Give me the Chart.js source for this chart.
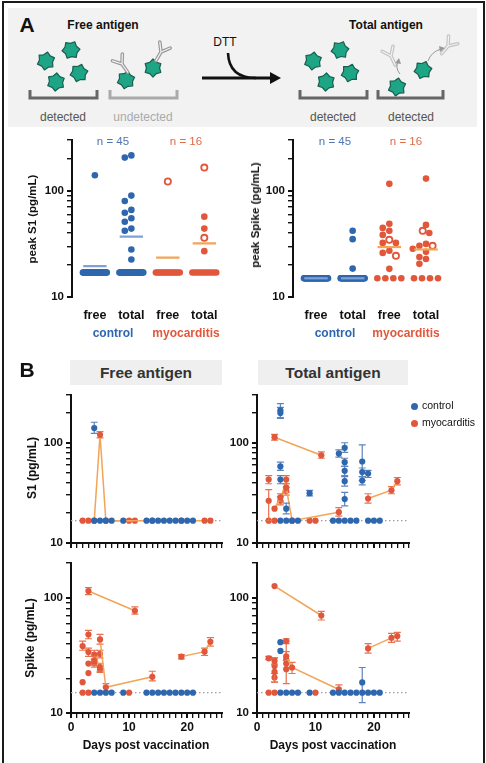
<!DOCTYPE html>
<html>
<head>
<meta charset="utf-8">
<script src="https://cdn.jsdelivr.net/npm/chart.js@4.4.1/dist/chart.umd.min.js"></script>
<style>
body { margin: 0; width: 486px; height: 763px; position: relative; background: #fff; overflow: hidden;
       font-family: "Liberation Sans", Arial, Helvetica, sans-serif; color: #111; }
.t { position: absolute; white-space: nowrap; transform: translate(-50%, -50%); }
.rot { transform: translate(-50%, -50%) rotate(-90deg); }
.b { font-weight: bold; }
.cv { position: absolute; }
.hdr { position: absolute; background: #efefef; font-weight: bold; font-size: 15.5px; color: #333;
       display: flex; align-items: center; justify-content: center; }
</style>
</head>
<body>
<div style="position:absolute;left:2px;top:1px;width:479px;height:780px;border:2px solid #1a1a1a;border-bottom:none"></div>
<div style="position:absolute;left:8px;top:8px;width:469px;height:119px;background:#f2f2f2"></div>
<svg id="art" width="486" height="130" style="position:absolute;left:0;top:0"></svg>

<div class="t b" style="left:27px;top:25px;font-size:21px">A</div>
<div class="t b" style="left:103px;top:25px;font-size:12px">Free antigen</div>
<div class="t b" style="left:386px;top:25px;font-size:12px">Total antigen</div>
<div class="t" style="left:225px;top:42px;font-size:12px">DTT</div>
<div class="t" style="left:63px;top:117px;font-size:12px;color:#555">detected</div>
<div class="t" style="left:143px;top:117px;font-size:12px;color:#aaa">undetected</div>
<div class="t" style="left:333px;top:117px;font-size:12px;color:#555">detected</div>
<div class="t" style="left:411px;top:117px;font-size:12px;color:#555">detected</div>

<div class="cv" style="left:0;top:130px;width:232px;height:215px"><canvas id="aS1"></canvas></div>
<div class="cv" style="left:200px;top:130px;width:286px;height:215px"><canvas id="aSpike"></canvas></div>

<div class="t" style="left:113px;top:141px;font-size:11.5px;color:#4d75b3">n = 45</div>
<div class="t" style="left:186px;top:141px;font-size:11.5px;color:#e06b48">n = 16</div>
<div class="t" style="left:335px;top:141px;font-size:11.5px;color:#4d75b3">n = 45</div>
<div class="t" style="left:406px;top:141px;font-size:11.5px;color:#e06b48">n = 16</div>
<div class="t b" style="left:113px;top:333px;font-size:12px;color:#2f67ae">control</div>
<div class="t b" style="left:186px;top:333px;font-size:12px;color:#e1573b">myocarditis</div>
<div class="t b" style="left:335px;top:333px;font-size:12px;color:#2f67ae">control</div>
<div class="t b" style="left:406px;top:333px;font-size:12px;color:#e1573b">myocarditis</div>
<div class="t b rot" style="left:32px;top:219px;font-size:11.5px">peak S1 (pg/mL)</div>
<div class="t b rot" style="left:255px;top:215px;font-size:11.5px">peak Spike (pg/mL)</div>

<div class="t b" style="left:27px;top:370px;font-size:21px">B</div>
<div class="hdr" style="left:70px;top:360px;width:152px;height:25px">Free antigen</div>
<div class="hdr" style="left:258px;top:360px;width:150px;height:25px">Total antigen</div>

<div class="cv" style="left:0;top:385px;width:232px;height:170px"><canvas id="bS1Free"></canvas></div>
<div class="cv" style="left:200px;top:385px;width:286px;height:170px"><canvas id="bS1Tot"></canvas></div>
<div class="cv" style="left:0;top:553px;width:232px;height:210px"><canvas id="bSpFree"></canvas></div>
<div class="cv" style="left:200px;top:553px;width:286px;height:210px"><canvas id="bSpTot"></canvas></div>

<div class="t b rot" style="left:32px;top:468px;font-size:12px">S1 (pg/mL)</div>
<div class="t b rot" style="left:30px;top:638px;font-size:12px">Spike (pg/mL)</div>
<div class="t b" style="left:146px;top:745px;font-size:12px">Days post vaccination</div>
<div class="t b" style="left:333px;top:745px;font-size:12px">Days post vaccination</div>

<div style="position:absolute;left:411px;top:403px;width:7px;height:7px;border-radius:50%;background:#2f67ae"></div>
<div style="position:absolute;left:422px;top:399px;font-size:10.5px">control</div>
<div style="position:absolute;left:411px;top:420px;width:7px;height:7px;border-radius:50%;background:#e1573b"></div>
<div style="position:absolute;left:422px;top:416px;font-size:10.5px">myocarditis</div>

<script>
// ---------- panel A: peak values per subject ----------
const catLabels = ['free', 'total', 'free', 'total'];
const ticksA = [10, 20, 30, 40, 50, 60, 70, 80, 90, 100, 200, 300];
const ticksSpikeB = [10, 20, 30, 40, 50, 60, 70, 80, 90, 100, 200];

const s1CtrlFree = [140, 17, 17, 17, 17, 17, 17, 17, 17, 17, 17, 17, 17, 17, 17, 17, 17, 17, 17, 17, 17, 17, 17,
  17, 17, 17, 17, 17, 17, 17, 17, 17, 17, 17, 17, 17, 17, 17, 17, 17, 17, 17, 17, 17, 17];
const s1CtrlTotal = [215, 205, 90, 80, 66, 62, 55, 51, 44, 42, 28, 22.5, 17, 17, 17, 17, 17, 17, 17, 17, 17, 17,
  17, 17, 17, 17, 17, 17, 17, 17, 17, 17, 17, 17, 17, 17, 17, 17, 17, 17, 17, 17, 17, 17, 17];
const s1MyoFree = [17, 17, 17, 17, 17, 17, 17, 17, 17, 17, 17, 17, 17, 17, 17];
const s1MyoFreeOpen = [122];
const s1MyoTotal = [57, 44, 27, 17, 17, 17, 17, 17, 17, 17, 17, 17, 17, 17];
const s1MyoTotalOpen = [165, 36];
const s1Means = [19.5, 37, 23.5, 32];

const spCtrlFree = [15, 15, 15, 15, 15, 15, 15, 15, 15, 15, 15, 15, 15, 15, 15, 15, 15, 15, 15, 15, 15, 15, 15,
  15, 15, 15, 15, 15, 15, 15, 15, 15, 15, 15, 15, 15, 15, 15, 15, 15, 15, 15, 15, 15, 15];
const spCtrlTotal = [42, 35, 18.5, 15, 15, 15, 15, 15, 15, 15, 15, 15, 15, 15, 15, 15, 15, 15, 15, 15, 15, 15, 15,
  15, 15, 15, 15, 15, 15, 15, 15, 15, 15, 15, 15, 15, 15, 15, 15, 15, 15, 15, 15, 15, 15];
const spMyoFree = [116, 48.9, 44.7, 41.9, 38.4, 32.3, 32.3, 27.2, 26, 18.4, 15, 15, 15, 15];
const spMyoFreeOpen = [34.5, 24.4];
const spMyoTotal = [130, 47.7, 40, 31.6, 30.3, 28.4, 26.6, 23.8, 22.8, 20.5, 15, 15, 15, 15];
const spMyoTotalOpen = [41.9, 30.3];
const spMeans = [15, 15, 29.5, 28];

// ---------- panel B: time courses (days, value, error bar lo/hi, patient) ----------
const s1Lod = 16.7;
const spLod = 15;

const s1FreeCtrlDay = [4, 4, 5, 6, 7, 9, 13, 14, 15, 16, 17, 18, 19, 20, 21];
const s1FreeCtrlVal = [140, 16.7, 16.7, 16.7, 16.7, 16.7, 16.7, 16.7, 16.7, 16.7, 16.7, 16.7, 16.7, 16.7, 16.7];
const s1FreeCtrlLo = [124];
const s1FreeCtrlHi = [160];
const s1FreeMyoDay = [4, 5, 6, 14, 3, 11, 19, 23, 24, 2, 10];
const s1FreeMyoVal = [16.7, 120, 16.7, 16.7, 16.7, 16.7, 16.7, 16.7, 16.7, 16.7, 16.7];
const s1FreeMyoLo = [null, 112];
const s1FreeMyoHi = [null, 129];
const s1FreeMyoPid = [2, 2, 2, 2, 1, 1, 3, 3, 3, 4, 5];

const s1TotCtrlDay = [4, 4, 4, 4, 5, 9, 14, 15, 15, 15, 15, 15, 18, 18, 18, 19, 4, 5, 6, 7, 13, 14, 15, 16, 17, 19, 20, 21];
const s1TotCtrlVal = [210, 198, 58, 43, 22, 31.4, 78, 89, 64, 52.5, 41.4, 27.4, 65, 51, 42, 49.2,
  16.7, 16.7, 16.7, 16.7, 16.7, 16.7, 16.7, 16.7, 16.7, 16.7, 16.7, 16.7];
const s1TotCtrlLo = [178, 175, 53, 39, 19.5, 29.5, 72, 80, 58, 47, 37, 23.5, 42, 46, 38, 45];
const s1TotCtrlHi = [245, 225, 64, 47, 25, 33.5, 85, 100, 70, 58, 46, 32, 95, 56, 46, 53];
const s1TotMyoDay = [3, 11, 5, 6, 14, 19, 23, 24, 2, 2, 3, 4, 4, 5, 5, 2, 3, 9, 10];
const s1TotMyoVal = [113.5, 75, 35.7, 16.7, 20.3, 27.8, 33.6, 41.4, 43, 26.4, 22, 28.5, 26.4, 43, 33, 16.7, 16.7, 16.7, 16.7];
const s1TotMyoLo = [106, 70, 32, null, 18.5, 25, 31, 38, 39, 16.7, null, 26, 24, 39, 30];
const s1TotMyoHi = [121, 81, 39, null, 22.5, 31, 36.5, 45, 47, 34, null, 31, 29, 47, 36];
const s1TotMyoPid = [1, 1, 2, 2, 2, 3, 3, 3, 4, 5, 6, 6, 7, 7, 8, 9, 10, 11, 12];

const spFreeCtrlDay = [4, 5, 6, 7, 9, 13, 14, 15, 16, 17, 18, 19, 20, 21];
const spFreeCtrlVal = [15, 15, 15, 15, 15, 15, 15, 15, 15, 15, 15, 15, 15, 15];
const spFreeCtrlLo = [];
const spFreeCtrlHi = [];
const spFreeMyoDay = [3, 11, 5, 6, 14, 19, 23, 24, 2, 3, 3, 4, 5, 4, 5, 4, 5, 2, 3, 3, 2, 3, 10];
const spFreeMyoVal = [114, 77, 43.4, 16.7, 20.6, 30.8, 34, 41.4, 38, 33.8, 47.9, 28.3, 32.6, 32, 25, 27, 24, 18.5, 26.8, 22.2, 15, 15, 15];
const spFreeMyoLo = [106, 72, 39.5, 15.5, 19, 29.5, 31.5, 38, 35, 31, 44, 26, 30, 29.5, 23, 25, 22.5];
const spFreeMyoHi = [122, 83, 48, 18, 23, 32, 36.5, 45, 42, 36.5, 52, 31, 35, 35, 27, 29, 25.5];
const spFreeMyoPid = [1, 1, 2, 2, 2, 3, 3, 3, 4, 4, 5, 6, 6, 7, 7, 8, 8, 9, 10, 11, 12, 13, 14];

const spTotCtrlDay = [18, 4, 4, 4, 5, 6, 7, 9, 13, 14, 15, 16, 17, 18, 19, 20, 21];
const spTotCtrlVal = [18.4, 41.1, 34.5, 15, 15, 15, 15, 15, 15, 15, 15, 15, 15, 15, 15, 15, 15];
const spTotCtrlLo = [12.3];
const spTotCtrlHi = [24.8];
const spTotMyoDay = [3, 11, 5, 6, 14, 19, 23, 24, 2, 3, 3, 3, 3, 5, 5, 5, 5, 2, 3, 10];
const spTotMyoVal = [126, 70, 31, 24.8, 16, 36.3, 44.8, 46.4, 29.8, 28.3, 25.6, 22.7, 20.3, 42, 29.2, 26.8, 24, 15, 15, 15];
const spTotMyoLo = [null, 64, 28.5, 22, 15, 33, 41, 42, 29, 26.5, null, 18.5, 18.5, 40, null, null, 18];
const spTotMyoHi = [null, 76, 34, 27.5, 17.5, 40, 49, 50, 31, 30, null, 30, 22, 44, null, null, 42];
const spTotMyoPid = [1, 1, 2, 2, 2, 3, 3, 3, 4, 4, 6, 7, 8, 9, 10, 11, 12, 13, 14, 15];

// ---------- colours ----------
const BLUE = '#2f67ae';
const RED = '#e1573b';
const LIGHT_BLUE = '#7ea2d8';
const ORANGE = '#f2a457';

Chart.defaults.font.family = '"Liberation Sans", Arial, Helvetica, sans-serif';
Chart.defaults.color = '#111';

// ---------- illustration ----------
const svg = document.getElementById('art');
function starPts(cx, cy, r1, r2, rot) {
  const pts = [];
  for (let k = 0; k < 12; k++) {
    const a = (k * 30 + rot) * Math.PI / 180;
    const r = k % 2 ? r2 : r1;
    pts.push((cx + r * Math.sin(a)).toFixed(1) + ',' + (cy - r * Math.cos(a)).toFixed(1));
  }
  return pts.join(' ');
}
let art = '';
[[46, 61, 10], [71, 50, 25], [56, 82, 5], [79, 73, 18], [126, 80, 12], [153, 68, 0],
 [313, 61, 8], [340, 50, 22], [326, 82, 3], [350, 73, 15], [397, 87, 10], [423, 70, 20]].forEach(s => {
  art += '<polygon points="' + starPts(s[0], s[1], 9, 6.6, s[2]) + '" fill="#1ea585" stroke="#1a5e50" stroke-width="1.2" stroke-linejoin="round"/>';
});
function antibody(x, y, rot, col) {
  const d = 'M0,10 L0,0 M0,0 L-6,-8 M0,0 L6,-8';
  return '<g transform="translate(' + x + ',' + y + ') rotate(' + rot + ')">' +
    '<path d="' + d + '" stroke="' + col + '" stroke-width="3.6" fill="none" stroke-linecap="round"/>' +
    '<path d="' + d + '" stroke="#f2f2f2" stroke-width="1.2" fill="none" stroke-linecap="round"/></g>';
}
art += antibody(122, 64, -35, '#9a9a9a') + antibody(161, 52, 30, '#9a9a9a');
art += antibody(391, 56, -25, '#c4c4c4') + antibody(448, 46, 40, '#c4c4c4');
[[30, 97, '#666'], [110, 177, '#aaa'], [300, 367, '#666'], [378, 443, '#666']].forEach(b => {
  art += '<path d="M' + b[0] + ',90 L' + b[0] + ',98 L' + b[1] + ',98 L' + b[1] + ',90" stroke="' + b[2] + '" stroke-width="3" fill="none"/>';
});
art += '<path d="M202,78 L272,78" stroke="#111" stroke-width="3"/>';
art += '<polygon points="270,72 281,78 270,84" fill="#111"/>';
art += '<path d="M228,53 Q229,78 256,78" stroke="#111" stroke-width="2.6" fill="none"/>';
art += '<path d="M400,74 Q395,68 398,62" stroke="#999" stroke-width="1" fill="none"/><polygon points="395,63 399,58 401,64" fill="#999"/>';
art += '<path d="M428,61 Q431,52 441,49" stroke="#999" stroke-width="1" fill="none"/><polygon points="439,46 445,48 440,52" fill="#999"/>';
svg.innerHTML = art;

// ---------- plugins ----------
const errorBars = {
  id: 'errorBars',
  beforeDatasetDraw(chart, args) {
    const ds = chart.data.datasets[args.index];
    if (!ds.errLo) return;
    const ctx = chart.ctx, x = chart.scales.x, y = chart.scales.y;
    ctx.save();
    ctx.strokeStyle = ds.errColor;
    ctx.lineWidth = 1.2;
    ds.data.forEach((p, i) => {
      const lo = ds.errLo[i], hi = ds.errHi[i];
      if (lo == null || hi == null) return;
      const px = x.getPixelForValue(p.x);
      const y1 = y.getPixelForValue(lo), y2 = y.getPixelForValue(hi);
      ctx.beginPath();
      ctx.moveTo(px, y1); ctx.lineTo(px, y2);
      ctx.moveTo(px - 3.5, y1); ctx.lineTo(px + 3.5, y1);
      ctx.moveTo(px - 3.5, y2); ctx.lineTo(px + 3.5, y2);
      ctx.stroke();
    });
    ctx.restore();
  }
};

const lodLine = {
  id: 'lodLine',
  beforeDatasetsDraw(chart, args, opts) {
    if (opts.value == null) return;
    const ctx = chart.ctx, a = chart.chartArea;
    const py = chart.scales.y.getPixelForValue(opts.value);
    ctx.save();
    ctx.strokeStyle = '#a0a0a0';
    ctx.lineWidth = 1.2;
    ctx.setLineDash([1.5, 2.5]);
    ctx.beginPath();
    ctx.moveTo(a.left, py); ctx.lineTo(a.right, py);
    ctx.stroke();
    ctx.restore();
  }
};

// beeswarm spread (offsets in category units)
function swarm(vals, decPx, catPx) {
  const d = 6.6;
  const placed = [];
  const out = new Array(vals.length).fill(0);
  const counts = {};
  vals.forEach(v => counts[v] = (counts[v] || 0) + 1);
  const seen = {};
  const order = vals.map((v, i) => i).sort((a, b) => vals[b] - vals[a]);
  order.forEach(i => {
    const v = vals[i];
    const y = Math.log10(v) * decPx;
    if (counts[v] > 2) {
      const n = counts[v];
      const k = seen[v] = (seen[v] === undefined ? 0 : seen[v] + 1);
      const w = Math.min((n - 1) * 8, 24);
      const px = -w / 2 + k * w / (n - 1);
      out[i] = px / catPx;
      placed.push({ x: px, y: y });
      return;
    }
    for (let s = 0; s < 14; s++) {
      const cands = s === 0 ? [0] : [-s * d / 2, s * d / 2];
      const ok = cands.find(x => placed.every(p => Math.hypot(p.x - x, p.y - y) >= d));
      if (ok !== undefined) { out[i] = ok / catPx; placed.push({ x: ok, y: y }); return; }
    }
  });
  return out;
}

function yLogScale(ticks, max, width) {
  return {
    type: 'logarithmic', min: 10, max: max,
    afterBuildTicks: s => { s.ticks = ticks.map(v => ({ value: v })); },
    afterFit: s => { s.width = width; },
    ticks: { autoSkip: false, padding: 3, font: { size: 11.5, weight: 'bold' }, color: '#111',
             callback: v => (v === 10 || v === 100) ? String(v) : '' },
    grid: { display: true, drawOnChartArea: false, drawTicks: true, tickLength: 5, color: '#111',
            lineWidth: c => (c.tick && (c.tick.value === 10 || c.tick.value === 100)) ? 2 : 1.4 },
    border: { display: true, color: '#111', width: 2 }
  };
}

function stripChart(id, cols, opens, means, yMax, yW, padR) {
  const colCol = [BLUE, BLUE, RED, RED];
  const meanCol = [LIGHT_BLUE, LIGHT_BLUE, ORANGE, ORANGE];
  const meanSets = [], openSets = [], fillSets = [];
  cols.forEach((vals, c) => {
    const all = vals.concat(opens[c]);
    const off = swarm(all, 106, 36.7);
    meanSets.push({ type: 'line', data: [{ x: c + 1 - 0.32, y: means[c] }, { x: c + 1 + 0.32, y: means[c] }],
      borderColor: meanCol[c], borderWidth: 2.2, pointRadius: 0 });
    fillSets.push({ data: vals.map((v, i) => ({ x: c + 1 + off[i], y: v })),
      pointBackgroundColor: colCol[c], pointBorderColor: colCol[c], pointBorderWidth: 0, pointRadius: 3.3 });
    if (opens[c].length) openSets.push({ data: opens[c].map((v, i) => ({ x: c + 1 + off[vals.length + i], y: v })),
      pointBackgroundColor: '#fff', pointBorderColor: colCol[c], pointBorderWidth: 1.8, pointRadius: 3.1 });
  });
  new Chart(document.getElementById(id), {
    type: 'scatter',
    data: { datasets: meanSets.concat(openSets, fillSets) },
    options: {
      responsive: true, maintainAspectRatio: false, animation: false, events: [],
      layout: { padding: { top: 10, right: padR, left: 0, bottom: 0 } },
      plugins: { legend: { display: false }, tooltip: { enabled: false } },
      scales: {
        x: {
          type: 'linear', min: 0.373, max: 4.6,
          afterBuildTicks: s => { s.ticks = [1, 2, 3, 4].map(v => ({ value: v })); },
          afterFit: s => { s.height = 48; },
          ticks: { autoSkip: false, padding: 3, font: { size: 12.5, weight: 'bold' }, color: '#111',
                   callback: v => catLabels[v - 1] },
          grid: { display: false }, border: { display: false }
        },
        y: yLogScale(ticksA, 300, yW)
      }
    }
  });
}

function patientSets(days, vals, lo, hi, pid) {
  const ids = [...new Set(pid)];
  return ids.map(id => {
    const idx = pid.map((p, i) => p === id ? i : -1).filter(i => i >= 0);
    return {
      data: idx.map(i => ({ x: days[i], y: vals[i] })),
      errLo: idx.map(i => lo[i]), errHi: idx.map(i => hi[i]), errColor: '#e8714f',
      showLine: idx.length > 1, borderColor: ORANGE, borderWidth: 1.5,
      pointBackgroundColor: RED, pointBorderColor: RED, pointBorderWidth: 0, pointRadius: 3.1
    };
  });
}

function timeChart(id, ctrl, myo, lod, yMax, yTicks, yW, padR, xH, showX) {
  const ctrlSet = {
    data: ctrl[0].map((d, i) => ({ x: d, y: ctrl[1][i] })),
    errLo: ctrl[2], errHi: ctrl[3], errColor: '#5e84bd',
    pointBackgroundColor: BLUE, pointBorderColor: BLUE, pointBorderWidth: 0, pointRadius: 3.1
  };
  new Chart(document.getElementById(id), {
    type: 'scatter',
    data: { datasets: [ctrlSet].concat(patientSets(myo[0], myo[1], myo[2], myo[3], myo[4])) },
    options: {
      responsive: true, maintainAspectRatio: false, animation: false, events: [],
      layout: { padding: { top: 8, right: padR, left: 0, bottom: 0 } },
      plugins: { legend: { display: false }, tooltip: { enabled: false }, lodLine: { value: lod } },
      scales: {
        x: {
          type: 'linear', min: 0, max: 26,
          afterBuildTicks: s => { const t = []; for (let v = 0; v <= 26; v++) t.push({ value: v }); s.ticks = t; },
          afterFit: s => { s.height = xH; },
          ticks: { autoSkip: false, maxRotation: 0, padding: 2, font: { size: 12, weight: 'bold' }, color: '#111',
                   callback: v => (showX && v % 10 === 0) ? String(v) : '' },
          grid: { display: true, drawOnChartArea: false, drawTicks: true, tickLength: 5, color: '#111',
                  lineWidth: c => (c.tick && c.tick.value % 10 === 0) ? 2 : 1.3 },
          border: { display: true, color: '#111', width: 2 }
        },
        y: yLogScale(yTicks, yMax, yW)
      }
    },
    plugins: [errorBars, lodLine]
  });
}

stripChart('aS1', [s1CtrlFree, s1CtrlTotal, s1MyoFree, s1MyoTotal],
  [[], [], s1MyoFreeOpen, s1MyoTotalOpen], s1Means, 300, 72, 5);
stripChart('aSpike', [spCtrlFree, spCtrlTotal, spMyoFree, spMyoTotal],
  [[], [], spMyoFreeOpen, spMyoTotalOpen], spMeans, 300, 93, 38);

timeChart('bS1Free', [s1FreeCtrlDay, s1FreeCtrlVal, s1FreeCtrlLo, s1FreeCtrlHi],
  [s1FreeMyoDay, s1FreeMyoVal, s1FreeMyoLo, s1FreeMyoHi, s1FreeMyoPid], s1Lod, 300, ticksA, 71, 10, 12, false);
timeChart('bS1Tot', [s1TotCtrlDay, s1TotCtrlVal, s1TotCtrlLo, s1TotCtrlHi],
  [s1TotMyoDay, s1TotMyoVal, s1TotMyoLo, s1TotMyoHi, s1TotMyoPid], s1Lod, 300, ticksA, 57, 77, 12, false);
timeChart('bSpFree', [spFreeCtrlDay, spFreeCtrlVal, spFreeCtrlLo, spFreeCtrlHi],
  [spFreeMyoDay, spFreeMyoVal, spFreeMyoLo, spFreeMyoHi, spFreeMyoPid], spLod, 200, ticksSpikeB, 71, 10, 50, true);
timeChart('bSpTot', [spTotCtrlDay, spTotCtrlVal, spTotCtrlLo, spTotCtrlHi],
  [spTotMyoDay, spTotMyoVal, spTotMyoLo, spTotMyoHi, spTotMyoPid], spLod, 200, ticksSpikeB, 57, 77, 50, true);
</script>
</body>
</html>
